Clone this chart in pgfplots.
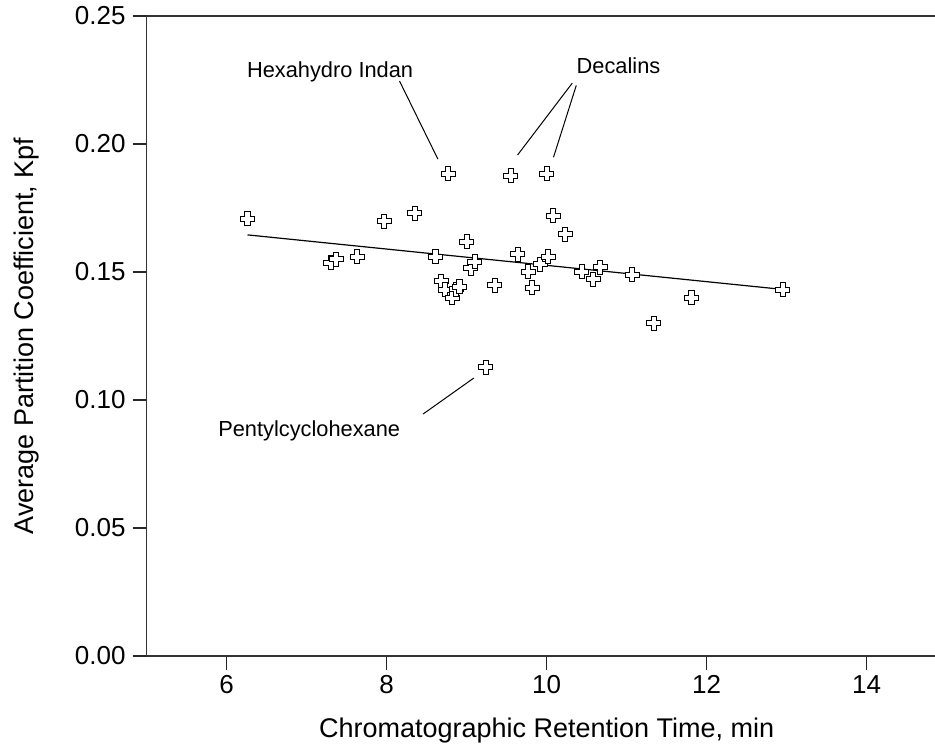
\documentclass[border=0pt]{standalone}
\usepackage{fontspec}
\setmainfont{Liberation Sans}
\usepackage{pgfplots}
\pgfplotsset{compat=1.18}
\pgfdeclareplotmark{ocross}{%
  \pgfmathsetlengthmacro\ocR{\pgfplotmarksize}%
  \pgfmathsetlengthmacro\ocA{0.36*\pgfplotmarksize}%
  \pgfpathmoveto{\pgfqpoint{-\ocA}{\ocR}}%
  \pgfpathlineto{\pgfqpoint{\ocA}{\ocR}}%
  \pgfpathlineto{\pgfqpoint{\ocA}{\ocA}}%
  \pgfpathlineto{\pgfqpoint{\ocR}{\ocA}}%
  \pgfpathlineto{\pgfqpoint{\ocR}{-\ocA}}%
  \pgfpathlineto{\pgfqpoint{\ocA}{-\ocA}}%
  \pgfpathlineto{\pgfqpoint{\ocA}{-\ocR}}%
  \pgfpathlineto{\pgfqpoint{-\ocA}{-\ocR}}%
  \pgfpathlineto{\pgfqpoint{-\ocA}{-\ocA}}%
  \pgfpathlineto{\pgfqpoint{-\ocR}{-\ocA}}%
  \pgfpathlineto{\pgfqpoint{-\ocR}{\ocA}}%
  \pgfpathlineto{\pgfqpoint{-\ocA}{\ocA}}%
  \pgfpathclose
  \pgfusepathqfillstroke
}
\pgfplotstableread{
x y
6.26 0.1708
7.30 0.1536
7.37 0.1550
7.63 0.1559
7.97 0.1698
8.35 0.1729
8.61 0.1560
8.68 0.1464
8.73 0.1430
8.77 0.1884
8.82 0.1400
8.87 0.1432
8.91 0.1442
9.00 0.1618
9.05 0.1514
9.10 0.1540
9.24 0.1128
9.35 0.1448
9.55 0.1875
9.64 0.1569
9.77 0.1500
9.82 0.1439
9.92 0.1530
10.00 0.1884
10.02 0.1560
10.08 0.1719
10.23 0.1648
10.44 0.1500
10.58 0.1471
10.67 0.1518
11.07 0.1490
11.34 0.1300
11.81 0.1400
12.95 0.1430
}\pts
\begin{document}
\begin{tikzpicture}
\begin{axis}[
  name=ax, scale only axis, width=394.15bp, height=320bp,
  xmin=5, xmax=14.854, ymin=0, ymax=0.25,
  axis x line*=bottom, axis y line*=left,
  clip=false,
  xtick={6,8,10,12,14}, ytick={0,0.05,0.1,0.15,0.2,0.25},
  tick align=outside, major tick length=7bp, minor tick num=0,
  tick style={black!85, line width=0.6bp},
  axis line style={black!80, line width=0.6bp},
  /pgf/number format/assume math mode=true,
  ticklabel style={font=\fontsize{13bp}{15bp}\selectfont},
  yticklabel style={/pgf/number format/.cd, fixed, fixed zerofill, precision=2, /tikz/.cd, anchor=east, inner sep=0pt, xshift=-3.35bp},
  xticklabel style={anchor=north, inner sep=0pt, yshift=-2.5bp},
  xlabel={Chromatographic Retention Time, min},
  ylabel={Average Partition Coefficient, Kpf},
  label style={font=\fontsize{13.5bp}{16bp}\selectfont},
  xlabel style={at={(axis description cs:0.5074,-0.1266)}, anchor=base, inner sep=0pt},
  ylabel style={at={(axis description cs:-0.1442,0.5)}, anchor=base, inner sep=0pt},
]
\addplot[no markers, black, line width=0.6bp] coordinates {(6.26,0.1645) (12.95,0.1432)};
\addplot[only marks, mark=ocross, mark size=3.5bp, mark options={fill=white, draw=black, line width=0.5bp}] table[x=x,y=y] {\pts};
\draw[black!80, line width=0.6bp] (rel axis cs:0,1) -- (rel axis cs:1,1);
\draw[line width=0.5bp] (axis cs:8.16,0.2246) -- (axis cs:8.64,0.1941);
\draw[line width=0.5bp] (axis cs:10.32,0.2238) -- (axis cs:9.636,0.1957);
\draw[line width=0.5bp] (axis cs:10.37,0.2229) -- (axis cs:10.085,0.1948);
\draw[line width=0.5bp] (axis cs:8.454,0.0945) -- (axis cs:9.09,0.1086);
\node[anchor=base west, inner sep=0pt, font=\fontsize{10.9bp}{13bp}\selectfont] at (axis cs:6.25,0.2261) {Hexahydro Indan};
\node[anchor=base west, inner sep=0pt, font=\fontsize{10.9bp}{13bp}\selectfont] at (axis cs:10.37,0.2275) {Decalins};
\node[anchor=base west, inner sep=0pt, font=\fontsize{10.9bp}{13bp}\selectfont] at (axis cs:5.89,0.0859) {Pentylcyclohexane};
\end{axis}
\pgfresetboundingbox
\path[use as bounding box] ([xshift=-73.35bp,yshift=-45bp]ax.south west) rectangle ([yshift=8bp]ax.north east);
\end{tikzpicture}
\end{document}
